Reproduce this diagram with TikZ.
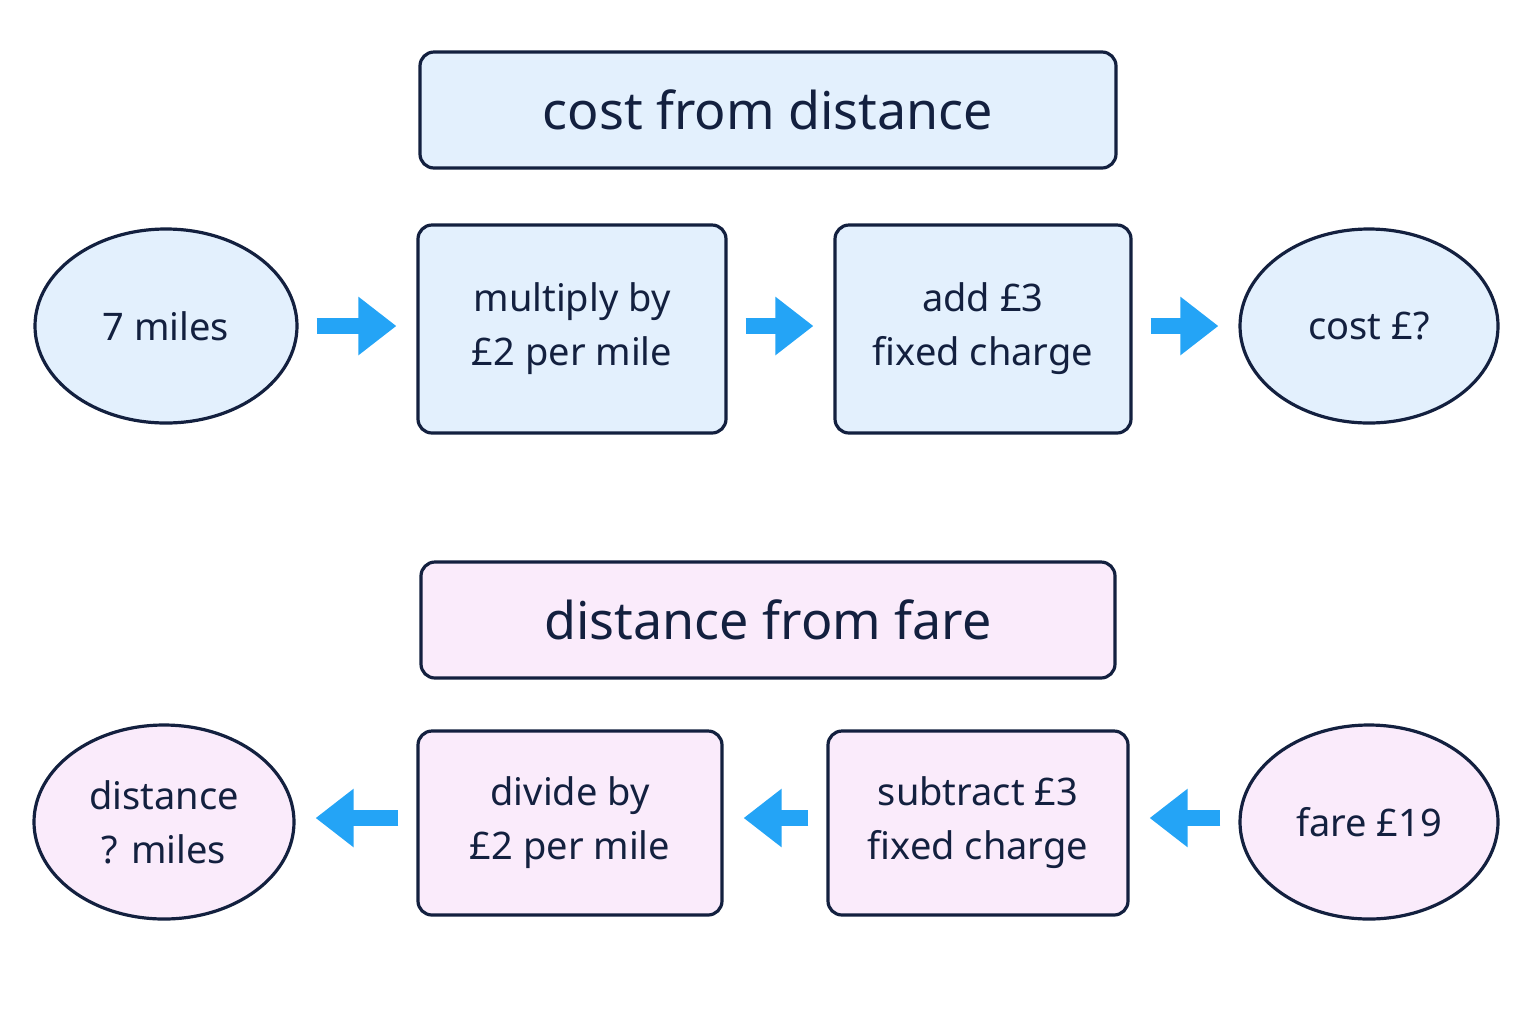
\documentclass[tikz,border=0pt]{standalone}
\usepackage{fontspec}
\setmainfont{Noto Sans}
\usetikzlibrary{shapes.geometric,arrows.meta}
\definecolor{ink}{HTML}{13203F}
\definecolor{bfill}{HTML}{E3F0FD}
\definecolor{pfill}{HTML}{FAEBFB}
\definecolor{arr}{HTML}{24A4F6}
\begin{document}
\begin{tikzpicture}[x=0.5pt,y=-0.5pt,
  base/.style={draw=ink,line width=1.6pt,text=ink,align=center,font=\fontsize{19}{27}\selectfont,inner sep=0pt},
  box/.style={base,rounded corners=7pt},
  ell/.style={base,ellipse},
  title/.style={box,font=\fontsize{26}{30}\selectfont\bfseries},
  arw/.style={draw=arr,line width=8pt,-{Triangle[length=19pt,width=28pt]},shorten <=9pt,shorten >=10pt}]
\useasboundingbox (0,0) rectangle (1536,1024);
\node[title,fill=bfill,minimum width=348pt,minimum height=58pt] (t1) at (768,110) {cost from distance};
\node[ell,fill=bfill,minimum width=131pt,minimum height=97pt] (e1) at (166,326) {7 miles};
\node[box,fill=bfill,minimum width=154pt,minimum height=104pt] (b1) at (572,329) {multiply by\\£2 per mile};
\node[box,fill=bfill,minimum width=148pt,minimum height=104pt] (b2) at (983,329) {add £3\\fixed charge};
\node[ell,fill=bfill,minimum width=129pt,minimum height=97pt] (e2) at (1369,326) {cost £?};
\draw[arw] (e1.east) -- (b1.west |- e1.east);
\draw[arw] (b1.east |- e1.east) -- (b2.west |- e1.east);
\draw[arw] (b2.east |- e1.east) -- (e2.west);
\node[title,fill=pfill,minimum width=347pt,minimum height=58pt] (t2) at (768,620) {distance from fare};
\node[ell,fill=pfill,minimum width=130pt,minimum height=97pt] (e3) at (164,822) {distance\\? miles};
\node[box,fill=pfill,minimum width=152pt,minimum height=92pt] (b3) at (570,823) {divide by\\£2 per mile};
\node[box,fill=pfill,minimum width=150pt,minimum height=92pt] (b4) at (978,823) {subtract £3\\fixed charge};
\node[ell,fill=pfill,minimum width=129pt,minimum height=97pt] (e4) at (1369,822) {fare £19};
\draw[arw] (e4.west |- 0,818) -- (b4.east |- 0,818);
\draw[arw] (b4.west |- 0,818) -- (b3.east |- 0,818);
\draw[arw] (b3.west |- 0,818) -- (e3.east |- 0,818);
\end{tikzpicture}
\end{document}
